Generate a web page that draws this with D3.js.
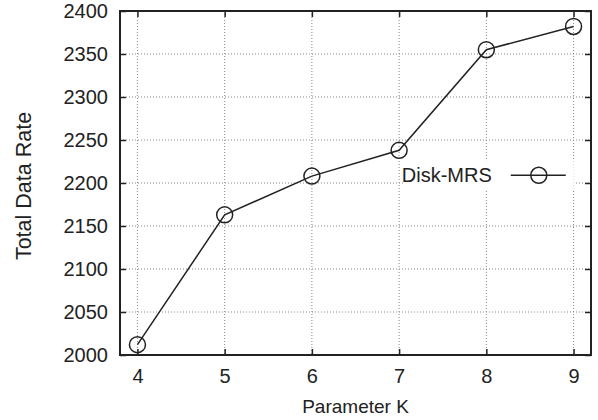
<!DOCTYPE html>
<html>
<head>
<meta charset="utf-8">
<script src="https://cdn.jsdelivr.net/npm/d3@7"></script>
<style>
  html, body { margin: 0; padding: 0; background: #fff; }
  svg { display: block; }
  text { font-family: "Liberation Sans", Arial, Helvetica, sans-serif; fill: #222; }
</style>
</head>
<body>
<svg id="chart" width="598" height="420"></svg>
<script>
// Total data rate of Disk-MRS for each value of the parameter K
const kValues = [4, 5, 6, 7, 8, 9];
const diskMrsRates = [2012, 2163, 2208, 2238, 2355, 2382];
const yTicks = [2000, 2050, 2100, 2150, 2200, 2250, 2300, 2350, 2400];
const seriesName = "Disk-MRS";

const svg = d3.select("#chart");
const margin = { left: 120, right: 7, top: 11, bottom: 65 };
const W = 598, H = 420;
const innerW = W - margin.left - margin.right;
const innerH = H - margin.top - margin.bottom;

const x = d3.scaleLinear().domain([3.8, 9.2]).range([0, innerW]);
const y = d3.scaleLinear().domain([2000, 2400]).range([innerH, 0]);

const g = svg.append("g").attr("transform", `translate(${margin.left},${margin.top})`);

// dotted grid
g.append("g").selectAll("line").data(yTicks).join("line")
  .attr("x1", 0).attr("x2", innerW)
  .attr("y1", d => y(d)).attr("y2", d => y(d))
  .attr("stroke", "#888").attr("stroke-width", 1).attr("stroke-dasharray", "1,2");
g.append("g").selectAll("line").data(kValues).join("line")
  .attr("x1", d => x(d)).attr("x2", d => x(d))
  .attr("y1", 0).attr("y2", innerH)
  .attr("stroke", "#888").attr("stroke-width", 1).attr("stroke-dasharray", "1,2");

// axes: ticks on all four sides, pointing inward
const tickLen = 6;
const fmt = d3.format("d");
const xAxis = d3.axisBottom(x).tickValues(kValues).tickFormat(fmt).tickSizeInner(-tickLen).tickSizeOuter(0).tickPadding(14);
const yAxis = d3.axisLeft(y).tickValues(yTicks).tickFormat(fmt).tickSizeInner(-tickLen).tickSizeOuter(0).tickPadding(12);
const xTop = d3.axisTop(x).tickValues(kValues).tickSizeInner(-tickLen).tickSizeOuter(0).tickFormat("");
const yRight = d3.axisRight(y).tickValues(yTicks).tickSizeInner(-tickLen).tickSizeOuter(0).tickFormat("");

function style(sel) {
  sel.attr("font-size", 20).attr("font-family", '"Liberation Sans", Arial, sans-serif');
  sel.select(".domain").remove();
  sel.selectAll("line").attr("stroke", "#222").attr("stroke-width", 1.5);
  sel.selectAll("text").attr("fill", "#222");
}
g.append("g").attr("transform", `translate(0,${innerH})`).call(xAxis).call(style);
g.append("g").call(yAxis).call(style);
g.append("g").call(xTop).call(style);
g.append("g").attr("transform", `translate(${innerW},0)`).call(yRight).call(style);

// frame
g.append("rect").attr("x", 0).attr("y", 0).attr("width", innerW).attr("height", innerH)
  .attr("fill", "none").attr("stroke", "#222").attr("stroke-width", 2);

// series line and markers
const pts = kValues.map((k, i) => [k, diskMrsRates[i]]);
const line = d3.line().x(d => x(d[0])).y(d => y(d[1]));
g.append("path").datum(pts).attr("d", line)
  .attr("fill", "none").attr("stroke", "#222").attr("stroke-width", 1.5);
g.selectAll("circle.pt").data(pts).join("circle").attr("class", "pt")
  .attr("cx", d => x(d[0])).attr("cy", d => y(d[1])).attr("r", 8)
  .attr("fill", "none").attr("stroke", "#222").attr("stroke-width", 1.5);

// legend
const lg = g.append("g").attr("transform", `translate(${x(8.2)},${y(2209)})`);
lg.append("rect").attr("x", -100).attr("y", -14).attr("width", 170).attr("height", 28).attr("fill", "#fff");
lg.append("text").attr("x", -12).attr("y", 7).attr("text-anchor", "end")
  .style("font-size", "20px").text(seriesName);
lg.append("line").attr("x1", 7).attr("x2", 62).attr("y1", 0).attr("y2", 0)
  .attr("stroke", "#222").attr("stroke-width", 1.5);
lg.append("circle").attr("cx", 35).attr("cy", 0).attr("r", 8)
  .attr("fill", "none").attr("stroke", "#222").attr("stroke-width", 1.5);

// axis titles
svg.append("text").attr("x", margin.left + innerW / 2).attr("y", 413)
  .attr("text-anchor", "middle").style("font-size", "19px").text("Parameter K");
svg.append("text").attr("transform", `translate(31,186) rotate(-90)`)
  .attr("text-anchor", "middle").style("font-size", "21.5px").text("Total Data Rate");
</script>
</body>
</html>
